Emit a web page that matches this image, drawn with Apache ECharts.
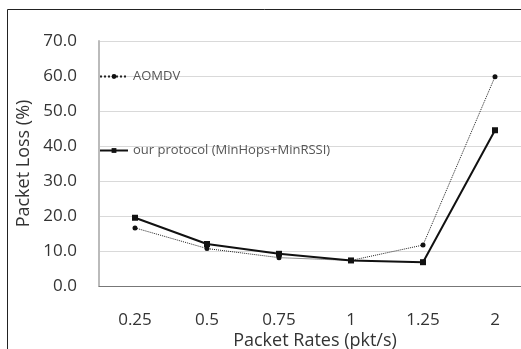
<!DOCTYPE html>
<html>
<head>
<meta charset="utf-8">
<script src="https://cdn.jsdelivr.net/npm/echarts@6/dist/echarts.min.js"></script>
<style>
  html, body { margin: 0; padding: 0; background: #fff; }
  #chart { width: 521px; height: 349px; }
</style>
</head>
<body>
<div id="chart"></div>
<script>
// 数据
var rates = ['0.25', '0.5', '0.75', '1', '1.25', '2'];
var aomdv = [16.6, 10.7, 8.1, 7.3, 11.7, 59.8];
var ours = [19.5, 12.0, 9.2, 7.3, 6.8, 44.5];
var yTicks = [0, 10, 20, 30, 40, 50, 60, 70];

var myChart = echarts.init(document.getElementById('chart'));

var option = {
    animation: false,
    textStyle: { fontFamily: 'Open Sans' },
    graphic: [{
        type: 'rect',
        shape: { x: 7.5, y: 9.5, width: 530, height: 360 },
        style: { fill: 'none', stroke: '#222', lineWidth: 1 }
    }],
    grid: { left: 99, top: 41, width: 432, bottom: 63, containLabel: false, outerBoundsMode: 'none' },
    legend: {
        orient: 'vertical',
        left: 99,
        top: 70,
        padding: 0,
        itemGap: 61,
        itemWidth: 28,
        itemHeight: 6,
        textStyle: { fontSize: 13, color: '#555', fontFamily: 'Open Sans' },
        data: ['AOMDV', 'our protocol (MinHops+MinRSSI)']
    },
    xAxis: {
        type: 'category',
        data: rates,
        name: 'Packet Rates (pkt/s)',
        nameLocation: 'middle',
        nameGap: 46,
        nameMoveOverlap: false,
        nameTextStyle: { fontSize: 18, color: '#333' },
        axisLine: { lineStyle: { color: '#777', width: 1 } },
        axisTick: { show: false },
        axisLabel: { fontSize: 17, color: '#333', margin: 26 }
    },
    yAxis: {
        type: 'value',
        min: 0,
        max: 70,
        interval: 10,
        name: 'Packet Loss (%)',
        nameLocation: 'middle',
        nameGap: 66,
        nameMoveOverlap: false,
        nameTextStyle: { fontSize: 18, color: '#333' },
        axisLine: { show: true, lineStyle: { color: '#bbb', width: 2 } },
        axisTick: { show: false },
        axisLabel: {
            fontSize: 17, color: '#333', margin: 22,
            formatter: function (v) { return yTicks.indexOf(v) >= 0 ? v.toFixed(1) : ''; }
        },
        splitLine: { lineStyle: { color: '#d9d9d9' } }
    },
    series: [{
        name: 'AOMDV',
        type: 'line',
        data: aomdv,
        symbol: 'circle',
        symbolSize: 5,
        itemStyle: { color: '#111' },
        lineStyle: { color: '#222', width: 1, type: 'dotted' }
    }, {
        name: 'our protocol (MinHops+MinRSSI)',
        type: 'line',
        data: ours,
        symbol: 'rect',
        symbolSize: 6,
        itemStyle: { color: '#111' },
        lineStyle: { color: '#111', width: 2 }
    }]
};

myChart.setOption(option);
</script>
</body>
</html>
